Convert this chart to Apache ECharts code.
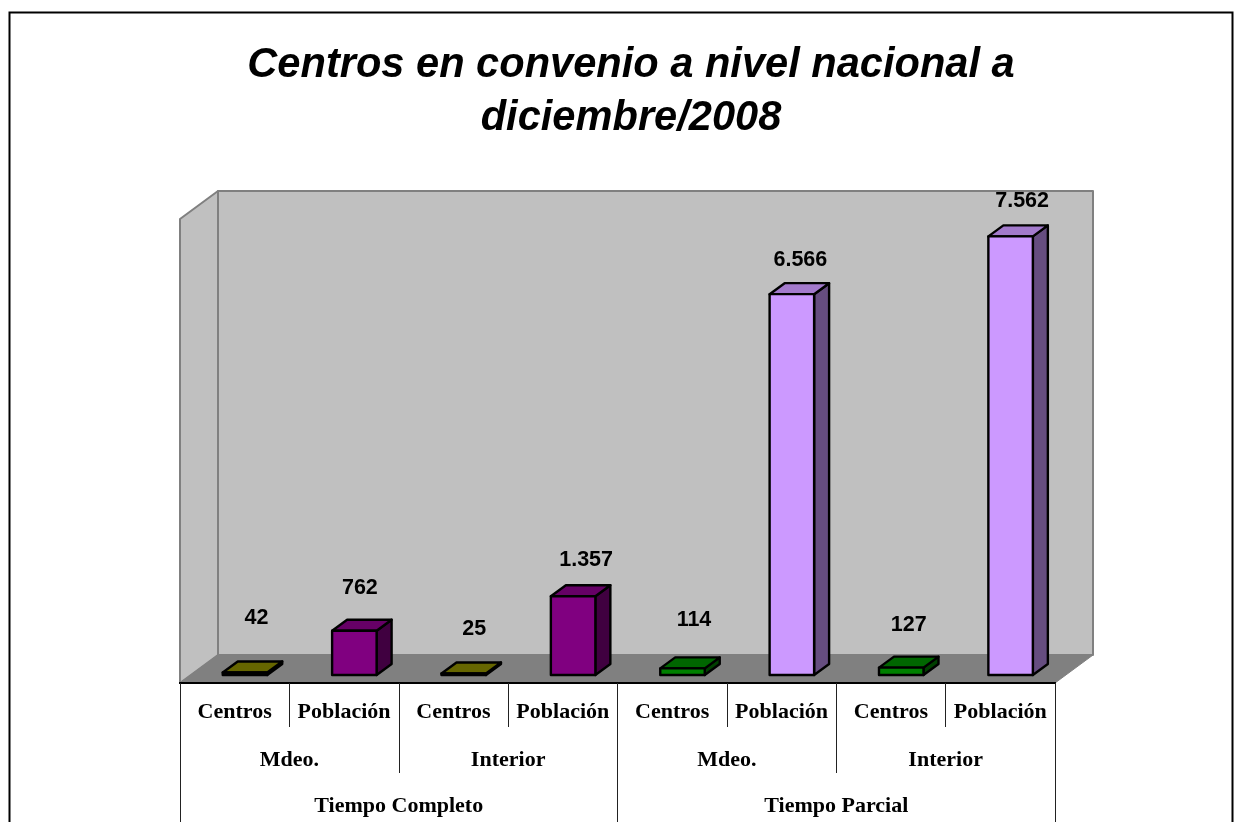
<!DOCTYPE html>
<html>
<head>
<meta charset="utf-8">
<style>html,body{margin:0;padding:0;background:#fff;overflow:hidden}#c{width:1243px;height:822px}</style>
<script src="https://cdn.jsdelivr.net/npm/echarts@6/dist/echarts.min.js"></script>
</head>
<body>
<div id="c"></div>
<script>
// Data
const titleText = 'Centros en convenio a nivel nacional a\ndiciembre/2008';
const measures = ['Centros','Población','Centros','Población','Centros','Población','Centros','Población'];
const regions = ['Mdeo.','Interior','Mdeo.','Interior'];
const schedules = ['Tiempo Completo','Tiempo Parcial'];
const values = [42, 762, 25, 1357, 114, 6566, 127, 7562];

// Styling (not data)
const faces = {
  olive:  {front:'#808000', top:'#666600', side:'#404000'},
  purple: {front:'#800080', top:'#660066', side:'#400040'},
  green:  {front:'#008000', top:'#006600', side:'#004000'},
  lilac:  {front:'#CC99FF', top:'#A37ACC', side:'#664D80'}
};
const barFaces = ['olive','purple','olive','purple','green','lilac','green','lilac'];
const labelShift = [[11.5,-54],[5.5,-43],[10.5,-44],[13,-36],[11.5,-48],[8.5,-34],[7.5,-43],[11.5,-35]];
const WALL_DX = 38, WALL_DY = 28, FRONT_DX = 10.3, FRONT_DY = 8;
const BAR_DX = 15, BAR_DY = 11, BAR_RATIO = 44.5 / 109.4;
const GREY = '#808080', WALL = '#C0C0C0', serif = '"Liberation Serif"', sans = '"Liberation Sans"';

function thousands(v){ return String(v).replace(/\B(?=(\d{3})+$)/g, '.'); }

function renderWalls(params, api){
  const c = params.coordSys;
  const x0 = c.x - FRONT_DX, y0 = c.y + c.height + FRONT_DY;
  const x1 = x0 + c.width;
  const h = c.height;
  const ln = {stroke:GREY, lineWidth:2, lineJoin:'round'};
  return {type:'group', children:[
    {type:'polygon', shape:{points:[[x0+WALL_DX,y0-WALL_DY-h],[x1+WALL_DX,y0-WALL_DY-h],[x1+WALL_DX,y0-WALL_DY],[x0+WALL_DX,y0-WALL_DY]]}, style:{fill:WALL, ...ln}},
    {type:'polygon', shape:{points:[[x0,y0-h],[x0+WALL_DX,y0-WALL_DY-h],[x0+WALL_DX,y0-WALL_DY],[x0,y0]]}, style:{fill:WALL, ...ln}},
    {type:'polygon', shape:{points:[[x0,y0],[x1,y0],[x1+WALL_DX,y0-WALL_DY],[x0+WALL_DX,y0-WALL_DY]]}, style:{fill:GREY, stroke:GREY, lineWidth:1}}
  ]};
}

function renderBar(params, api){
  const i = api.value(0), v = api.value(1);
  const base = api.coord([i, 0]), top = api.coord([i, v]);
  const w = api.size([1, 0])[0] * BAR_RATIO;
  const l = base[0] - w/2, r = base[0] + w/2, b = base[1], t = top[1];
  const f = faces[barFaces[i]];
  const st = {stroke:'#000', lineWidth:2.4, lineJoin:'round'};
  const s = labelShift[i];
  return {type:'group', children:[
    {type:'polygon', shape:{points:[[r,b],[r+BAR_DX,b-BAR_DY],[r+BAR_DX,t-BAR_DY],[r,t]]}, style:{fill:f.side, ...st}},
    {type:'polygon', shape:{points:[[l,t],[l+BAR_DX,t-BAR_DY],[r+BAR_DX,t-BAR_DY],[r,t]]}, style:{fill:f.top, ...st}},
    {type:'rect', shape:{x:l, y:t, width:w, height:b-t}, style:{fill:f.front, ...st}},
    {type:'text', x:base[0]+s[0], y:t+s[1], style:{text:thousands(v), fill:'#000', font:'bold 21.5px '+sans, textAlign:'center', textVerticalAlign:'middle'}}
  ]};
}

function levelAxis(data, tickLen, margin){
  return {
    type:'category', gridIndex:1, position:'bottom', data, boundaryGap:true, z:5,
    axisLine:{show:true, onZero:false, lineStyle:{color:'#000', width:2}},
    axisTick:{show:true, length:tickLen, alignWithLabel:false, lineStyle:{color:'#222', width:1}},
    axisLabel:{show:true, interval:0, margin, color:'#000', fontFamily:serif, fontWeight:'bold', fontSize:22, hideOverlap:false},
    splitLine:{show:false}
  };
}

const chart = echarts.init(document.getElementById('c'), null, {renderer:'canvas'});
chart.setOption({
  animation:false,
  backgroundColor:'#fff',
  title:{
    text:titleText, left:626, top:34, textAlign:'center',
    textStyle:{fontFamily:sans, fontStyle:'italic', fontWeight:'bold', fontSize:41.6, lineHeight:53, color:'#000'}
  },
  graphic:[{type:'rect', z:-1, shape:{x:9.5, y:12.5, width:1223, height:900}, style:{fill:'#fff', stroke:'#000', lineWidth:2}}],
  grid:[
    {left:190.3, top:211, width:875, height:464},
    {left:180, top:682, width:875, height:1}
  ],
  xAxis:[
    {type:'category', gridIndex:0, data:measures, show:false},
    levelAxis(measures, 44, 18.5),
    levelAxis(regions, 90, 66.5),
    levelAxis(schedules, 139, 112.5)
  ],
  yAxis:[
    {type:'value', gridIndex:0, min:0, max:8000, interval:2000, show:false},
    {type:'value', gridIndex:1, min:0, max:1, show:false}
  ],
  series:[
    {type:'custom', xAxisIndex:0, yAxisIndex:0, clip:false, silent:true, z:1, data:[[0,0]], renderItem:renderWalls},
    {type:'custom', xAxisIndex:0, yAxisIndex:0, clip:false, z:2, data:values.map((v,i)=>[i,v]), renderItem:renderBar, encode:{x:0,y:1}}
  ]
});
</script>
</body>
</html>
